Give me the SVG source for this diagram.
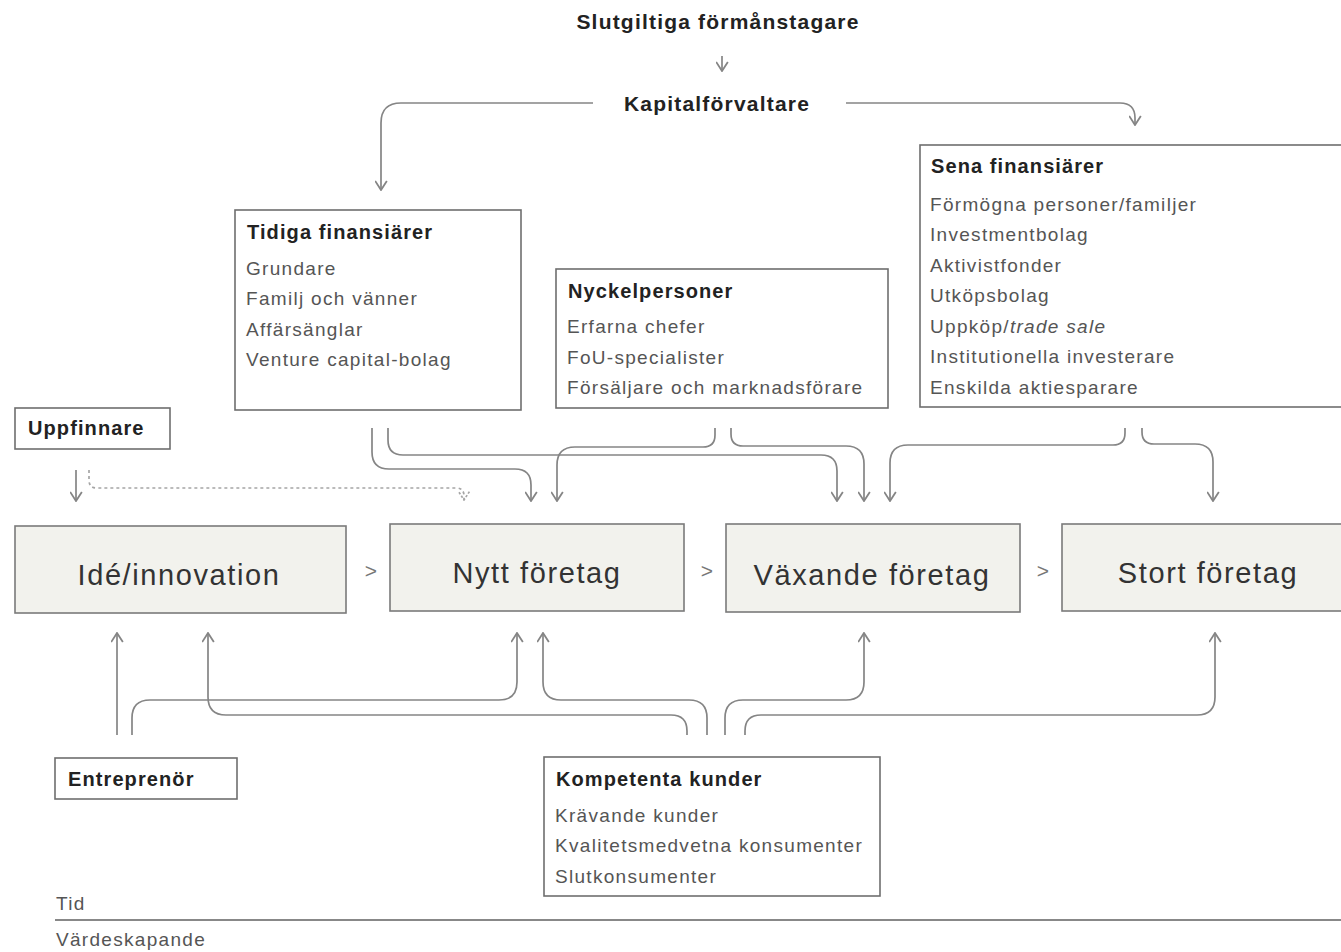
<svg xmlns="http://www.w3.org/2000/svg" width="1341" height="952" viewBox="0 0 1341 952">
<style>
text{font-family:"Liberation Sans",Arial,sans-serif;}
.ttl{font-size:21px;font-weight:bold;fill:#222;letter-spacing:1.2px;}
.hd{font-size:20px;font-weight:bold;fill:#222;letter-spacing:1.1px;}
.it{font-size:19px;fill:#555;letter-spacing:1.3px;}
.st{font-size:29px;fill:#333;letter-spacing:1.6px;}
.gt{font-size:21px;fill:#777;}
.box{fill:#fff;stroke:#6e6e6e;stroke-width:1.6;}
.sbox{fill:#f2f2ed;stroke:#7a7a7a;stroke-width:1.6;}
.c{fill:none;stroke:#858585;stroke-width:1.7;}
.d{fill:none;stroke:#a5a5a5;stroke-width:1.7;stroke-dasharray:3 3;}
</style>
<defs>
<marker id="ah" viewBox="0 0 10 10" refX="9" refY="5" markerWidth="13" markerHeight="13" markerUnits="userSpaceOnUse" orient="auto">
<path d="M2,0.5 L9,5 L2,9.5" fill="none" stroke="#858585" stroke-width="1.4"/>
</marker>
<marker id="ahd" viewBox="0 0 10 10" refX="9" refY="5" markerWidth="12" markerHeight="12" markerUnits="userSpaceOnUse" orient="auto">
<path d="M2,0.5 L9,5 L2,9.5" fill="none" stroke="#a5a5a5" stroke-width="1.4" stroke-dasharray="2 1.5"/>
</marker>
</defs>
<rect width="1341" height="952" fill="#fff"/>

<g id="slutgiltiga"><text class="ttl" x="718" y="29" text-anchor="middle">Slutgiltiga förmånstagare</text></g>
<g id="kapitalforvaltare"><text class="ttl" x="717" y="111" text-anchor="middle">Kapitalförvaltare</text></g>

<g id="tidiga">
<rect class="box" x="235" y="210" width="286" height="200"/>
<text class="hd" x="247" y="239">Tidiga finansiärer</text>
<text class="it" x="246" y="275">Grundare</text>
<text class="it" x="246" y="305">Familj och vänner</text>
<text class="it" x="246" y="336">Affärsänglar</text>
<text class="it" x="246" y="366">Venture capital-bolag</text>
</g>

<g id="nyckelpersoner">
<rect class="box" x="556" y="269" width="332" height="139"/>
<text class="hd" x="568" y="298">Nyckelpersoner</text>
<text class="it" x="567" y="333">Erfarna chefer</text>
<text class="it" x="567" y="364">FoU-specialister</text>
<text class="it" x="567" y="394">Försäljare och marknadsförare</text>
</g>

<g id="sena">
<rect class="box" x="920" y="145" width="430" height="262"/>
<text class="hd" x="931" y="173">Sena finansiärer</text>
<text class="it" x="930" y="211">Förmögna personer/familjer</text>
<text class="it" x="930" y="241">Investmentbolag</text>
<text class="it" x="930" y="272">Aktivistfonder</text>
<text class="it" x="930" y="302">Utköpsbolag</text>
<text class="it" x="930" y="333">Uppköp/<tspan font-style="italic">trade sale</tspan></text>
<text class="it" x="930" y="363">Institutionella investerare</text>
<text class="it" x="930" y="394">Enskilda aktiesparare</text>
</g>

<g id="uppfinnare">
<rect class="box" x="15" y="408" width="155" height="41"/>
<text class="hd" x="28" y="435">Uppfinnare</text>
</g>

<g id="ide">
<rect class="sbox" x="15" y="526" width="331" height="87"/>
<text class="st" x="179" y="585" text-anchor="middle">Idé/innovation</text>
</g>
<g id="nytt">
<rect class="sbox" x="390" y="524" width="294" height="87"/>
<text class="st" x="537" y="583" text-anchor="middle">Nytt företag</text>
</g>
<g id="vaxande">
<rect class="sbox" x="726" y="524" width="294" height="88"/>
<text class="st" x="872" y="585" text-anchor="middle">Växande företag</text>
</g>
<g id="stort">
<rect class="sbox" x="1062" y="524" width="290" height="87"/>
<text class="st" x="1208" y="583" text-anchor="middle">Stort företag</text>
</g>
<g id="steps">
<text class="gt" x="371" y="578" text-anchor="middle">&gt;</text>
<text class="gt" x="707" y="578" text-anchor="middle">&gt;</text>
<text class="gt" x="1043" y="578" text-anchor="middle">&gt;</text>
</g>

<g id="entreprenor">
<rect class="box" x="55" y="758" width="182" height="41"/>
<text class="hd" x="68" y="786">Entreprenör</text>
</g>

<g id="kompetenta">
<rect class="box" x="544" y="757" width="336" height="139"/>
<text class="hd" x="556" y="786">Kompetenta kunder</text>
<text class="it" x="555" y="822">Krävande kunder</text>
<text class="it" x="555" y="852">Kvalitetsmedvetna konsumenter</text>
<text class="it" x="555" y="883">Slutkonsumenter</text>
</g>

<g id="axis">
<text class="it" x="56" y="910">Tid</text>
<line x1="55" y1="920" x2="1341" y2="920" stroke="#888" stroke-width="2"/>
<text class="it" x="56" y="946">Värdeskapande</text>
</g>

<g id="connectors">
<path class="c" d="M722,56 V71" marker-end="url(#ah)"/>
<path class="c" d="M593,103 H401 Q381,103 381,123 V190" marker-end="url(#ah)"/>
<path class="c" d="M846,103 H1120 Q1135,103 1135,118 V125" marker-end="url(#ah)"/>

<path class="c" d="M372,428 V452 Q372,469 389,469 H515 Q531,469 531,485 V501" marker-end="url(#ah)"/>
<path class="c" d="M388,428 V440 Q388,455 403,455 H821 Q837,455 837,471 V501" marker-end="url(#ah)"/>
<path class="c" d="M715,428 V435 Q715,447 703,447 H575 Q557,447 557,465 V501" marker-end="url(#ah)"/>
<path class="c" d="M731,428 V434 Q731,446 743,446 H846 Q864,446 864,464 V501" marker-end="url(#ah)"/>
<path class="c" d="M1125,428 V433 Q1125,445 1113,445 H908 Q890,445 890,463 V501" marker-end="url(#ah)"/>
<path class="c" d="M1142,428 V432 Q1142,444 1154,444 H1195 Q1213,444 1213,462 V501" marker-end="url(#ah)"/>

<path class="c" d="M76,470 V501" marker-end="url(#ah)"/>
<path class="d" d="M89,470 V480 Q89,488 97,488 H456 Q464,488 464,496 V500" marker-end="url(#ahd)"/>

<path class="c" d="M117,735 V633" marker-end="url(#ah)"/>
<path class="c" d="M132,735 V718 Q132,700 150,700 H499 Q517,700 517,682 V633" marker-end="url(#ah)"/>
<path class="c" d="M687,735 V731 Q687,715 671,715 H226 Q208,715 208,697 V633" marker-end="url(#ah)"/>
<path class="c" d="M707,735 V718 Q707,700 689,700 H561 Q543,700 543,682 V633" marker-end="url(#ah)"/>
<path class="c" d="M725,735 V718 Q725,700 743,700 H846 Q864,700 864,682 V633" marker-end="url(#ah)"/>
<path class="c" d="M745,735 V731 Q745,715 761,715 H1197 Q1215,715 1215,697 V633" marker-end="url(#ah)"/>
</g>
</svg>
